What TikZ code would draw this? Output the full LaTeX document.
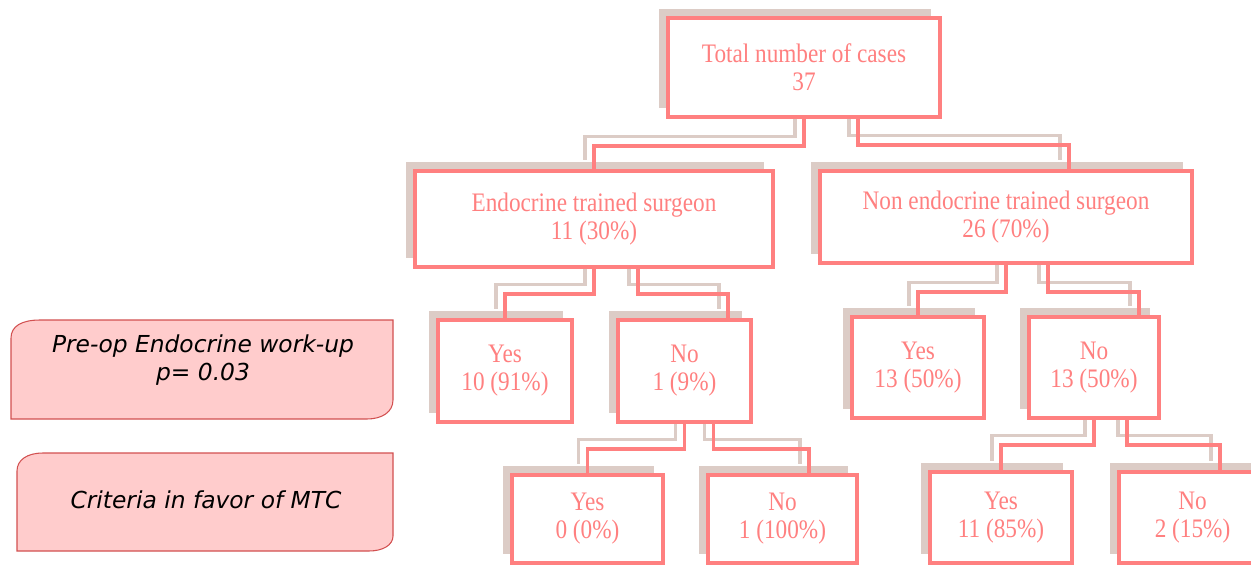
\documentclass[tikz,border=0pt]{standalone}
\usepackage{fontspec}
\setmainfont{Liberation Serif}[FakeStretch=0.87]
\newfontfamily\sidefont{DejaVu Sans}
\usetikzlibrary{calc,shadows,backgrounds}

\definecolor{boxred}{RGB}{255,128,128}
\definecolor{shadegray}{RGB}{220,204,198}
\definecolor{sidefill}{RGB}{255,204,204}
\definecolor{sideedge}{RGB}{210,80,80}

\tikzset{
  casebox/.style={draw=boxred, line width=2pt, fill=white, text=boxred,
    align=center, inner sep=0pt, font=\fontsize{15.2}{16}\selectfont,
    drop shadow={shadow xshift=-0.18cm, shadow yshift=0.18cm, fill=shadegray, opacity=1}},
  link/.style={draw=boxred, line width=2pt},
  shadelink/.style={draw=shadegray, line width=1.8pt},
  sidebox/.style={draw=sideedge, fill=sidefill, line width=0.6pt},
  sidetext/.style={align=center, font=\sidefont\itshape\fontsize{13.3}{16}\selectfont}
}

% parent, child, shift at parent, drop, shift at child
\newcommand{\branch}[5]{%
  \begin{scope}[on background layer]
    \draw[shadelink, transform canvas={xshift=-0.18cm, yshift=0.18cm}]
      ($(#1.south)+(#3,0)$) -- ++(0,#4) -| ($(#2.north)+(#5,0)$);
  \end{scope}
  \draw[link] ($(#1.south)+(#3,0)$) -- ++(0,#4) -| ($(#2.north)+(#5,0)$);
}

\begin{document}
\begin{tikzpicture}[x=0.02cm, y=-0.02cm]
\useasboundingbox (0,0) rectangle (1251,565);

% side labels
\draw[sidebox] (11,419) -- (11,338) .. controls (11,326) and (22,320) .. (40,320)
  -- (393,320) -- (393,400) .. controls (393,412) and (382,419) .. (367,419) -- cycle;
\node[sidetext] (workup) at (203,360) {Pre-op Endocrine work-up\\p= 0.03};

\draw[sidebox] (17,551) -- (17,471) .. controls (17,460) and (27,453) .. (43,453)
  -- (393,453) -- (393,536) .. controls (393,545) and (383,551) .. (369,551) -- cycle;
\node[sidetext] (criteria) at (206,500) {Criteria in favor of MTC};

% tree
\node[casebox, minimum width=5.44cm, minimum height=1.98cm] (total) at (804,67.5) {Total number of cases\\37};

\node[casebox, minimum width=7.16cm, minimum height=1.92cm] (endo) at (594,219) {Endocrine trained surgeon\\11 (30\%)};
\node[casebox, minimum width=7.44cm, minimum height=1.84cm] (nonendo) at (1006,217) {Non endocrine trained surgeon\\26 (70\%)};

\node[casebox, minimum width=2.68cm, minimum height=2.04cm] (endoyes) at (505,371) {Yes\\10 (91\%)};
\node[casebox, minimum width=2.66cm, minimum height=2.04cm] (endono) at (684.5,371) {No\\1 (9\%)};
\node[casebox, minimum width=2.64cm, minimum height=2.02cm] (nonyes) at (918,367.5) {Yes\\13 (50\%)};
\node[casebox, minimum width=2.60cm, minimum height=2.02cm] (nonno) at (1094,367.5) {No\\13 (50\%)};

\node[casebox, minimum width=3.02cm, minimum height=1.76cm] (endonoyes) at (587.5,519) {Yes\\0 (0\%)};
\node[casebox, minimum width=2.98cm, minimum height=1.76cm] (endonono) at (782.5,519) {No\\1 (100\%)};
\node[casebox, minimum width=2.84cm, minimum height=1.82cm] (nonnoyes) at (1001,517.5) {Yes\\11 (85\%)};
\node[casebox, minimum width=2.94cm, minimum height=1.82cm] (nonnono) at (1192.5,517.5) {No\\2 (15\%)};

\branch{total}{endo}{0}{27}{0}
\branch{total}{nonendo}{54}{26}{63}
\branch{endo}{endoyes}{0}{25}{0}
\branch{endo}{endono}{44}{25}{43.5}
\branch{endono}{endonoyes}{0}{25}{0}
\branch{endono}{endonono}{29}{25}{26.5}
\branch{nonendo}{nonyes}{0}{27}{0}
\branch{nonendo}{nonno}{42}{27}{45}
\branch{nonno}{nonnoyes}{0}{25}{0}
\branch{nonno}{nonnono}{33}{25}{27.5}
\end{tikzpicture}
\end{document}
